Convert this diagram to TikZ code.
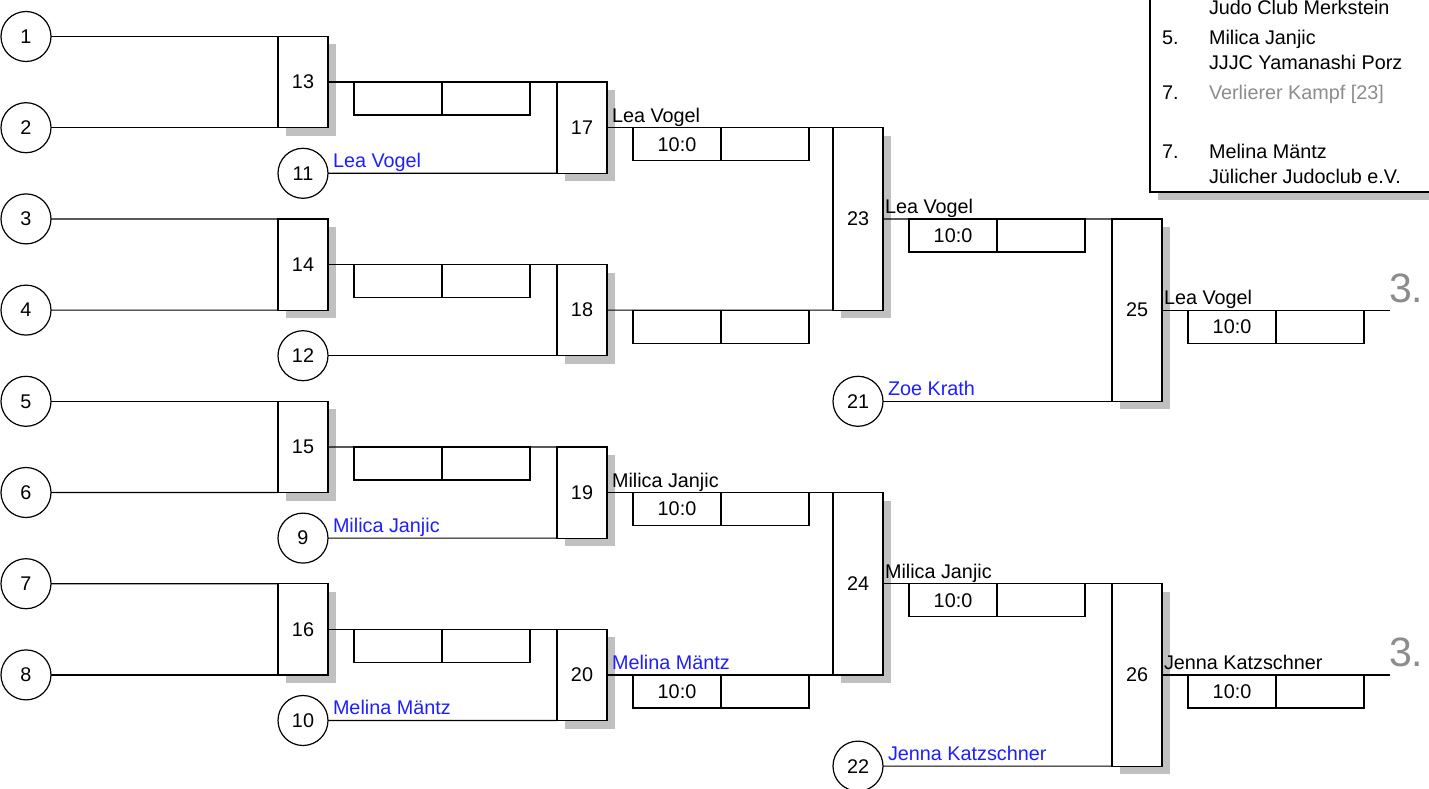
\documentclass[tikz,border=0pt]{standalone}
\usepackage{fontspec}
\setmainfont{Liberation Sans}
\usetikzlibrary{shadows}
\definecolor{shadowgray}{RGB}{192,192,192}
\definecolor{entryblue}{RGB}{30,30,255}
\definecolor{txtgray}{RGB}{140,140,140}
\newcommand{\txtsize}{\fontsize{19.8pt}{23pt}\selectfont}
\newcommand{\placesize}{\fontsize{41pt}{46pt}\selectfont}
\tikzset{
  every node/.style={font=\txtsize, inner sep=0pt, outer sep=0pt},
  seed/.style={circle, draw, line width=1.2pt, minimum size=50pt},
  match/.style={draw, fill=white, line width=1.2pt, minimum width=50pt,
    drop shadow={shadow xshift=8pt, shadow yshift=-8pt, fill=shadowgray, opacity=1}},
  rone/.style={match, minimum height=91.2pt},
  rthree/.style={match, minimum height=182.4pt},
  cell/.style={draw, line width=1.2pt, minimum width=88pt, minimum height=33pt, anchor=north west},
  winner/.style={anchor=base west},
  entrant/.style={anchor=base west, text=entryblue},
  wire/.style={line width=1.2pt},
  legendtext/.style={anchor=base west},
}
\begin{document}
\begin{tikzpicture}[x=1pt,y=-1pt]
\useasboundingbox (0,0) rectangle (1429,789);

% legend box (clipped by the page)
\begin{scope}
\clip (0,0) rectangle (1429,789);
\node[draw, fill=white, line width=1.2pt, minimum width=300pt, minimum height=212pt,
  drop shadow={shadow xshift=8pt, shadow yshift=-8pt, fill=shadowgray, opacity=1}] (legend) at (1300,86) {};
\end{scope}
\node[legendtext] (l1) at (1209,15) {Judo Club Merkstein};
\node[legendtext] (l2n) at (1162,45) {5.};
\node[legendtext] (l2) at (1209,45) {Milica Janjic};
\node[legendtext] (l3) at (1209,70) {JJJC Yamanashi Porz};
\node[legendtext] (l4n) at (1162,100) {7.};
\node[legendtext, text=txtgray] (l4) at (1209,100) {Verlierer Kampf [23]};
\node[legendtext] (l5n) at (1162,158) {7.};
\node[legendtext] (l5) at (1209,158) {Melina Mäntz};
\node[legendtext] (l6) at (1209,183) {Jülicher Judoclub e.V.};

% seeds
\node[seed] (c1) at (26,36.5) {1};
\node[seed] (c2) at (26,127.7) {2};
\node[seed] (c3) at (26,218.9) {3};
\node[seed] (c4) at (26,310.1) {4};
\node[seed] (c5) at (26,401.3) {5};
\node[seed] (c6) at (26,492.5) {6};
\node[seed] (c7) at (26,583.7) {7};
\node[seed] (c8) at (26,674.9) {8};
\node[seed] (c11) at (303,173.3) {11};
\node[seed] (c12) at (303,355.7) {12};
\node[seed] (c9) at (303,538.1) {9};
\node[seed] (c10) at (303,720.5) {10};
\node[seed] (c21) at (858,401.3) {21};
\node[seed] (c22) at (858,766.1) {22};

% matches
\node[rone] (m13) at (303,82.1) {13};
\node[rone] (m14) at (303,264.5) {14};
\node[rone] (m15) at (303,446.9) {15};
\node[rone] (m16) at (303,629.3) {16};
\node[rone] (m17) at (582,127.7) {17};
\node[rone] (m18) at (582,310.1) {18};
\node[rone] (m19) at (582,492.5) {19};
\node[rone] (m20) at (582,674.9) {20};
\node[rthree] (m23) at (858,218.9) {23};
\node[rthree] (m24) at (858,583.7) {24};
\node[rthree] (m25) at (1137,310.1) {25};
\node[rthree] (m26) at (1137,674.9) {26};

\coordinate (f25) at (1390,310.1);
\coordinate (f26) at (1390,674.9);

% connectors
\draw[wire] (c1.east) -- (m13.north west);
\draw[wire] (c2.east) -- (m13.south west);
\draw[wire] (c3.east) -- (m14.north west);
\draw[wire] (c4.east) -- (m14.south west);
\draw[wire] (c5.east) -- (m15.north west);
\draw[wire] (c6.east) -- (m15.south west);
\draw[wire] (c7.east) -- (m16.north west);
\draw[wire] (c8.east) -- (m16.south west);
\draw[wire] (m13.east) -- (m17.north west);
\draw[wire] (c11.east) -- (m17.south west);
\draw[wire] (m14.east) -- (m18.north west);
\draw[wire] (c12.east) -- (m18.south west);
\draw[wire] (m15.east) -- (m19.north west);
\draw[wire] (c9.east) -- (m19.south west);
\draw[wire] (m16.east) -- (m20.north west);
\draw[wire] (c10.east) -- (m20.south west);
\draw[wire] (m17.east) -- (m23.north west);
\draw[wire] (m18.east) -- (m23.south west);
\draw[wire] (m19.east) -- (m24.north west);
\draw[wire] (m20.east) -- (m24.south west);
\draw[wire] (m23.east) -- (m25.north west);
\draw[wire] (c21.east) -- (m25.south west);
\draw[wire] (m24.east) -- (m26.north west);
\draw[wire] (c22.east) -- (m26.south west);
\draw[wire] (m25.east) -- (f25);
\draw[wire] (m26.east) -- (f26);

% score cells
\foreach \m/\s in {13/{},14/{},15/{},16/{},17/{10:0},18/{},19/{10:0},20/{10:0},23/{10:0},24/{10:0},25/{10:0},26/{10:0}}{
  \node[cell] (s\m a) at ([xshift=26pt]m\m.east) {\s};
  \node[cell] (s\m b) at (s\m a.north east) {};
}

% winner labels
\node[winner] (w17) at ([xshift=5pt,yshift=5.5pt]m17.east) {Lea Vogel};
\node[winner] (w19) at ([xshift=5pt,yshift=5.5pt]m19.east) {Milica Janjic};
\node[entrant] (w20) at ([xshift=5pt,yshift=5.5pt]m20.east) {Melina Mäntz};
\node[winner] (w23) at ([xshift=2pt,yshift=5.5pt]m23.east) {Lea Vogel};
\node[winner] (w24) at ([xshift=2pt,yshift=5.5pt]m24.east) {Milica Janjic};
\node[winner] (w25) at ([xshift=2pt,yshift=5.5pt]m25.east) {Lea Vogel};
\node[winner] (w26) at ([xshift=2pt,yshift=5.5pt]m26.east) {Jenna Katzschner};

% entrant labels
\node[entrant] (e11) at ([xshift=5pt,yshift=6pt]c11.east) {Lea Vogel};
\node[entrant] (e9) at ([xshift=5pt,yshift=6pt]c9.east) {Milica Janjic};
\node[entrant] (e10) at ([xshift=5pt,yshift=6pt]c10.east) {Melina Mäntz};
\node[entrant] (e21) at ([xshift=5pt,yshift=6pt]c21.east) {Zoe Krath};
\node[entrant] (e22) at ([xshift=5pt,yshift=6pt]c22.east) {Jenna Katzschner};

% places
\node[anchor=base west, font=\placesize, text=txtgray] (p25) at ([xshift=-1pt,yshift=8pt]f25) {3.};
\node[anchor=base west, font=\placesize, text=txtgray] (p26) at ([xshift=-1pt,yshift=8pt]f26) {3.};
\end{tikzpicture}
\end{document}
